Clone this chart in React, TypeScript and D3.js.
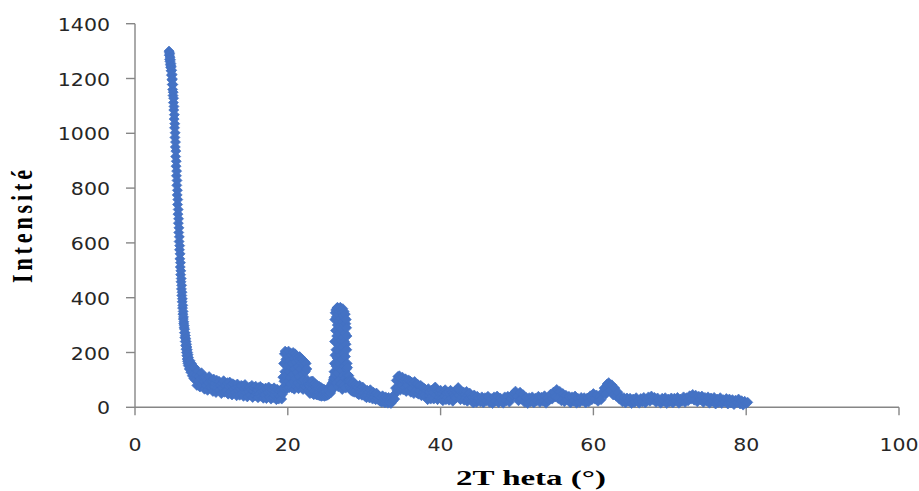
import React from 'react';
import * as d3 from 'd3';

// Scan segments: start angle, step (°2θ) and intensities
const segAStart = 4.45;
const segAStep = 0.025;
const segAValues = [
  1300, 1285, 1296, 1270, 1290, 1262, 1278, 1250, 1268, 1240,
  1255, 1228, 1245, 1212, 1230, 1195, 1215, 1178, 1198, 1160,
  1178, 1138, 1150, 1112, 1128, 1085, 1098, 1052, 1068, 1020,
  1035, 985, 1002, 950, 968, 915, 935, 880, 898, 845,
  862, 810, 828, 775, 792, 740, 758, 705, 722, 672,
  688, 638, 655, 605, 622, 575, 590, 542, 560, 512,
  528, 484, 498, 458, 470, 432, 445, 408, 420, 385,
  396, 362, 372, 340, 350, 322, 330, 305, 312, 290,
  298, 272, 285, 255, 272, 240, 262, 225, 250, 212,
  240, 200, 230, 188, 220, 176, 210, 168, 200, 160,
  192, 152,
];

const segBStart = 7.0;
const segBStep = 0.1;
const segBValues = [
  182, 140, 170, 128, 160, 115, 150, 105, 145, 100,
  118, 80, 132, 95, 112, 74, 104, 126, 84, 108,
  94, 66, 110, 80, 99, 62, 90, 112, 72, 95,
  70, 96, 58, 103, 75, 88, 54, 99, 67, 84,
  95, 64, 81, 50, 88, 70, 97, 55, 78, 62,
  60, 90, 48, 76, 92, 57, 80, 45, 86, 66,
  82, 55, 71, 42, 85, 60, 76, 44, 68, 80,
  50, 78, 40, 69, 83, 54, 72, 38, 65, 57,
  74, 45, 66, 80, 36, 60, 72, 42, 77, 52,
  63, 35, 72, 50, 76, 40, 58, 70, 33, 61,
  45, 70, 32, 64, 55, 74, 38, 60, 30, 67,
  62, 36, 71, 44, 58, 28, 66, 48, 30, 60,
  40, 64, 30,
];

const segPStart = 19.25;
const segPStep = 0.05;
const segPValues = [
  55, 48, 110, 70, 160, 95, 195, 130, 205, 80,
  175, 115, 200, 68, 150, 185, 95, 205, 130, 72,
  170, 110, 198, 85, 145, 190, 70, 160, 120, 200,
  92, 178, 66, 140, 195, 105, 165, 75, 188, 128,
  88, 180, 150, 68, 172, 112, 185, 80, 140, 178,
  96, 160, 70, 175, 122, 65, 168, 100, 155, 78,
  165, 130, 88, 160, 72, 140, 100, 82, 92, 62,
  85, 55, 78, 50, 88, 60, 95, 52, 90, 68,
  96, 55, 82, 46, 78, 58, 86, 48, 74, 56,
  82, 45, 70, 52, 78, 44, 70, 55, 76, 42,
  66, 50, 72, 40, 62, 48, 68, 42, 60, 50,
  66, 40, 58, 45, 62, 42, 58, 46, 64, 44,
  60, 50, 66, 48, 70, 55, 75, 52, 80, 60,
  85, 65, 90, 70, 100,
];

const segQStart = 26.0;
const segQStep = 0.025;
const segQValues = [
  95, 110, 130, 105, 160, 240, 320, 190, 345, 120,
  280, 355, 210, 150, 330, 90, 260, 362, 180, 300,
  365, 125, 235, 340, 75, 205, 315, 360, 160, 270,
  100, 350, 225, 140, 295, 365, 190, 85, 325, 245,
  355, 135, 285, 175, 345, 65, 220, 310, 360, 115,
  255, 335, 195, 80, 300, 350, 150, 240, 325, 105,
  270, 340, 185, 70, 305, 230, 320, 140, 290, 210,
  260, 160, 120, 145, 100, 118, 98,
];

const segRStart = 27.95;
const segRStep = 0.05;
const segRValues = [95, 115, 80, 100, 70, 95, 62, 90, 66, 88, 58, 85];

const segDStart = 28.6;
const segDStep = 0.1;
const segDValues = [
  92, 55, 84, 60,
  78, 50, 72, 46, 80, 55, 68, 44, 74, 52,
  66, 40, 60, 35, 62, 45, 56, 34, 64, 42,
  50, 30, 55, 36, 47, 28, 52, 34, 44, 26,
  40, 22, 36, 18, 42, 25, 34, 16, 38, 24,
  33, 15, 36, 20, 30, 14, 35, 22, 28, 45,
  30, 70, 98, 60, 112, 75, 115, 62, 105, 80,
  110, 64, 98, 72, 104, 58, 95, 80, 100, 62,
  96, 55, 92, 68, 88, 50, 94, 60, 85, 52,
  84, 48, 78, 58, 80, 42, 74, 55, 70, 45,
  66, 38, 60, 28, 68, 44, 56, 30, 62, 40,
  54, 30, 70, 74, 45, 64, 28, 58, 36, 52,
  62, 30, 50, 24, 58, 40, 64, 28, 52, 36,
  56, 26, 48, 62, 32, 54, 22, 50, 40, 60,
  34, 58, 66, 72, 44, 62, 28, 55, 38, 50,
  56, 26, 48, 34, 58, 22, 44, 30, 52, 36,
  42, 22, 38, 16, 45, 28, 36, 18, 40, 25,
  34,
];

const segCStart = 45.2;
const segCStep = 0.2;
const segCValues = [
  20, 38, 16, 35, 24,
  40, 18, 32, 14, 38,
  22, 41, 17, 34, 26,
  15, 38, 24, 40, 19,
  33, 45, 52, 59, 40,
  24, 55, 30, 46, 18,
  36, 14, 35, 20, 38,
  16, 33, 24, 40, 18,
  37, 22, 42, 15, 35,
  26, 48, 30, 56, 38,
  65, 32, 58, 24, 50,
  20, 44, 28, 40, 16,
  38, 22, 41, 15, 32,
  18, 36, 24, 35, 16,
  34, 20, 42, 28, 50,
  30, 45, 22, 38, 28,
  55, 70, 48, 85, 90,
  62, 82, 45, 70, 40,
  55, 30, 38, 20, 35,
  16, 34, 22, 33, 14,
  30, 18, 35, 24, 15,
  32, 20, 36, 16, 30,
  38, 22, 41, 28, 36,
  18, 34, 24, 15, 33,
  22, 35, 14, 30, 20,
  34, 16, 33, 24, 36,
  15, 30, 22, 38, 18,
  35, 24, 42, 30, 47,
  26, 44, 20, 40, 28,
  41, 18, 36, 24, 38,
  15, 34, 22, 36, 12,
  30, 18, 35, 14, 28,
  20, 32, 12, 30, 16,
  28, 10, 26, 18, 30,
  12, 24, 8, 22, 14,
  18,
];

const xTicks = [0, 20, 40, 60, 80, 100];
const yTicks = [0, 200, 400, 600, 800, 1000, 1200, 1400];
const xTitle = '2T heta (°)';
const yTitle = 'Intensité';

const W = 919;
const H = 491;
const markerColor = '#4472C4';
const axisColor = '#868686';
const textColor = '#262626';

const x = d3.scaleLinear().domain([0, 100]).range([135, 899]);
const y = d3.scaleLinear().domain([0, 1400]).range([407.3, 23.7]);

function segment(start: number, step: number, values: number[]) {
  return values.map((v, i) => ({ t: +(start + i * step).toFixed(3), v }));
}

const points = [
  ...segment(segAStart, segAStep, segAValues),
  ...segment(segBStart, segBStep, segBValues),
  ...segment(segPStart, segPStep, segPValues),
  ...segment(segQStart, segQStep, segQValues),
  ...segment(segRStart, segRStep, segRValues),
  ...segment(segDStart, segDStep, segDValues),
  ...segment(segCStart, segCStep, segCValues),
];

const markerPath = d3.symbol().type(d3.symbolSquare).size(50)() as string;

export default function App() {
  const [x0, x1] = x.range();
  const [y0, y1] = y.range();
  return (
    <svg
      width={W}
      height={H}
      viewBox={`0 0 ${W} ${H}`}
      style={{ position: 'absolute', left: 0, top: 0, background: '#fff' }}
    >
      <rect x={0} y={0} width={W} height={H} fill="#fff" />
      <line x1={x0} x2={x1} y1={y0} y2={y0} stroke={axisColor} strokeWidth={1.4} />
      <line x1={x0} x2={x0} y1={y0} y2={y1} stroke={axisColor} strokeWidth={1.4} />
      {xTicks.map((t) => (
        <line key={'xt' + t} x1={x(t)} x2={x(t)} y1={y0} y2={y0 + 8} stroke={axisColor} strokeWidth={1.4} />
      ))}
      {yTicks.map((t) => (
        <line key={'yt' + t} x1={x0 - 9} x2={x0} y1={y(t)} y2={y(t)} stroke={axisColor} strokeWidth={1.4} />
      ))}
      {xTicks.map((t) => (
        <text
          key={'xl' + t}
          transform={`translate(${x(t)},${451}) scale(1.14,1)`}
          textAnchor="middle"
          fontFamily="DejaVu Sans, Verdana, sans-serif"
          fontSize={18}
          fill={textColor}
        >
          {t}
        </text>
      ))}
      {yTicks.map((t) => (
        <text
          key={'yl' + t}
          transform={`translate(${110},${y(t) + 7}) scale(1.14,1)`}
          textAnchor="end"
          fontFamily="DejaVu Sans, Verdana, sans-serif"
          fontSize={18}
          fill={textColor}
        >
          {t}
        </text>
      ))}
      <g fill={markerColor} stroke={markerColor} strokeWidth={0.7} strokeLinejoin="round">
        {points.map((p, i) => (
          <path key={i} d={markerPath} transform={`translate(${x(p.t)},${y(p.v)}) rotate(45)`} />
        ))}
      </g>
      <text
        x={456}
        y={485}
        textLength={150}
        lengthAdjust="spacingAndGlyphs"
        fontFamily="Liberation Serif, Times New Roman, serif"
        fontWeight="bold"
        fontSize={22}
        fill="#000"
      >
        {xTitle}
      </text>
      <text
        transform={`translate(32,226.5) scale(1.3,1) rotate(-90)`}
        textAnchor="middle"
        textLength={113}
        lengthAdjust="spacing"
        fontFamily="Liberation Serif, Times New Roman, serif"
        fontWeight="bold"
        fontSize={22}
        fill="#000"
      >
        {yTitle}
      </text>
    </svg>
  );
}
